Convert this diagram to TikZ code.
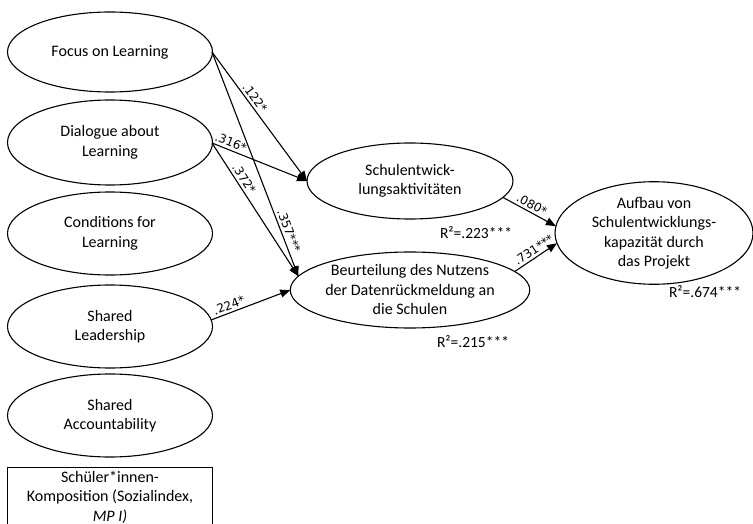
\documentclass[tikz,border=0pt]{standalone}
\usepackage{fontspec}
\setmainfont{Carlito}
\newfontfamily\lblfont{DejaVu Sans}
\usetikzlibrary{arrows.meta,shapes.geometric}
\begin{document}
\begin{tikzpicture}[x=1pt,y=1pt,
  ell/.style={draw, line width=1.1pt, ellipse, inner sep=0pt, outer sep=0pt, align=center,
    font=\fontsize{16}{19.5}\selectfont},
  lft/.style={ell, minimum width=205pt},
  path/.style={line width=1.1pt, -{Triangle[length=10pt,width=8pt]}},
  coef/.style={font=\lblfont\fontsize{12}{14}\selectfont, sloped, above, inner sep=2.5pt},
  rsq/.style={font=\fontsize{15.5}{18}\selectfont, inner sep=0pt}
]
\clip (0,0) rectangle (753,-524);
\node[lft, minimum height=80pt] (fol) at (110,-52) {Focus on Learning};
\node[lft, minimum height=85pt] (dal) at (110,-142.5) {Dialogue about\\Learning};
\node[lft, minimum height=83pt] (cfl) at (110,-233.5) {Conditions for\\Learning};
\node[lft, minimum height=83pt] (sl) at (110,-326.5) {Shared\\Leadership};
\node[lft, minimum height=83pt] (sa) at (110,-415.5) {Shared\\Accountability};
\node[draw, line width=1.1pt, anchor=north, minimum width=205pt,
  inner xsep=0pt, inner ysep=3.5pt, align=center, font=\fontsize{16}{19.5}\selectfont] (box) at (110,-467)
  {Schüler*innen-\\Komposition (Sozialindex,\\\textit{MP I)}\\[10pt]};
\node[ell, minimum width=206pt, minimum height=76pt] (sea) at (410,-181) {Schulentwick-\\lungsaktivitäten};
\node[ell, minimum width=206pt, minimum height=76pt] (bdn) at (410,-290) {Beurteilung des Nutzens\\der Datenrückmeldung an\\die Schulen};
\node[ell, minimum width=198pt, minimum height=84pt] (auf) at (654,-233) {Aufbau von\\Schulentwicklungs-\\kapazität durch\\das Projekt};
\node[rsq] (r1) at (476,-233) {R²=.223***};
\node[rsq] (r2) at (473,-342) {R²=.215***};
\node[rsq] (r3) at (705,-292) {R²=.674***};
\coordinate (folE) at (212,-52);
\coordinate (dalE) at (212,-143);
\coordinate (slE) at (211,-320);
\draw[path] (folE) -- node[coef, pos=0.39] {.122*} (sea.west);
\draw[path] (folE) -- node[coef, pos=0.81] {.357***} (bdn.173);
\draw[path] (dalE) -- node[coef, pos=0.17] {.316*} (sea.west);
\draw[path] (dalE) -- node[coef, pos=0.30] {.372*} (bdn.173);
\draw[path] (slE) -- node[coef, pos=0.26] {.224*} (bdn.west);
\draw[path] (sea.-10) -- node[coef, pos=0.48] {.080*} (auf.176);
\draw[path] (bdn.10) -- node[coef, pos=0.55] {.731***} (auf.186);
\end{tikzpicture}
\end{document}
